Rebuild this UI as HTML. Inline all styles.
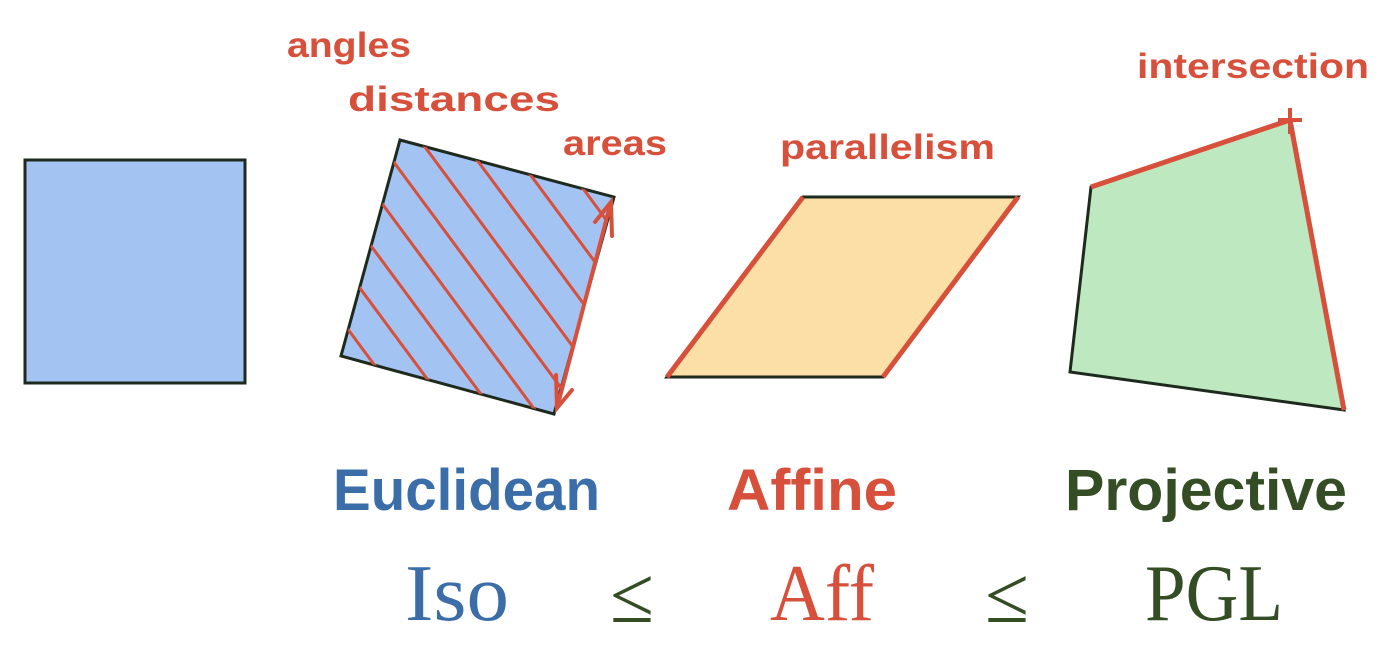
<!DOCTYPE html>
<html><head><meta charset="utf-8"><style>
html,body{margin:0;padding:0;background:#fff;}
svg{display:block;}
.lbl{font-family:"Liberation Sans",sans-serif;font-weight:bold;fill:#d6503b;font-size:35px;}
.big{font-family:"Liberation Sans",sans-serif;font-weight:bold;font-size:58px;}
.ser{font-family:"Liberation Serif",serif;font-size:80px;}
</style></head><body>
<svg width="1400" height="647" viewBox="0 0 1400 647">
<defs>
<clipPath id="rotclip"><polygon points="400,140 614,197 554,414 341,356"/></clipPath>
</defs>
<rect x="25" y="160" width="220" height="223" fill="#a3c4f3" stroke="#1e2a1e" stroke-width="3"/>

<g>
<polygon points="400,140 614,197 554,414 341,356" fill="#a3c4f3" stroke="#1e2a1e" stroke-width="3"/>
<g clip-path="url(#rotclip)" stroke="#d6503b" stroke-width="3" fill="none">
<line x1="230" y1="170" x2="430" y2="440"/>
<line x1="265" y1="160" x2="465" y2="430"/>
<line x1="300" y1="150" x2="500" y2="420"/>
<line x1="335" y1="140" x2="535" y2="410"/>
<line x1="370" y1="130" x2="570" y2="400"/>
<line x1="405" y1="120" x2="605" y2="390"/>
<line x1="440" y1="110" x2="640" y2="380"/>
<line x1="475" y1="100" x2="675" y2="370"/>
<line x1="510" y1="90" x2="710" y2="360"/>
<line x1="545" y1="80" x2="745" y2="350"/>
</g>
<g stroke="#d6503b" stroke-width="4" fill="none" stroke-linecap="round">
<line x1="611" y1="202" x2="557" y2="408"/>
<polyline points="595,222 611,202 612,236"/>
<polyline points="556,375 557,408 572,390"/>
</g>
</g>

<g>
<polygon points="803,197 1018,197 883,377 667,377" fill="#fbdfa6" stroke="#1e2a1e" stroke-width="3"/>
<line x1="803" y1="197" x2="667" y2="377" stroke="#d6503b" stroke-width="5"/>
<line x1="1018" y1="197" x2="883" y2="377" stroke="#d6503b" stroke-width="5"/>
</g>

<g>
<polygon points="1091,187 1290,120 1344,410 1070,372" fill="#bde8c0" stroke="#1e2a1e" stroke-width="3"/>
<line x1="1091" y1="187" x2="1290" y2="120" stroke="#d6503b" stroke-width="5"/>
<line x1="1290" y1="120" x2="1344" y2="410" stroke="#d6503b" stroke-width="5"/>
<path d="M1278,120 L1302,120 M1290,108 L1290,134" stroke="#d6503b" stroke-width="4"/>
</g>

<text class="lbl" x="287" y="57" textLength="124" lengthAdjust="spacingAndGlyphs">angles</text>
<text class="lbl" x="348" y="111" textLength="212" lengthAdjust="spacingAndGlyphs">distances</text>
<text class="lbl" x="563" y="155" textLength="104" lengthAdjust="spacingAndGlyphs">areas</text>
<text class="lbl" x="780" y="159" textLength="215" lengthAdjust="spacingAndGlyphs">parallelism</text>
<text class="lbl" x="1137" y="78" textLength="232" lengthAdjust="spacingAndGlyphs">intersection</text>

<text class="big" x="333" y="510" fill="#3b6ea8" textLength="267" lengthAdjust="spacingAndGlyphs">Euclidean</text>
<text class="big" x="727" y="510" fill="#d6503b" textLength="170" lengthAdjust="spacingAndGlyphs">Affine</text>
<text class="big" x="1065" y="510" fill="#344d25" textLength="282" lengthAdjust="spacingAndGlyphs">Projective</text>

<text class="ser" x="405" y="620" fill="#3b6ea8" textLength="104" lengthAdjust="spacingAndGlyphs">Iso</text>
<text class="ser" x="610" y="622" fill="#344d25" font-size="96">≤</text>
<text class="ser" x="770" y="620" fill="#d6503b" textLength="104" lengthAdjust="spacingAndGlyphs">Aff</text>
<text class="ser" x="985" y="622" fill="#344d25" font-size="96">≤</text>
<text class="ser" x="1145" y="620" fill="#344d25" textLength="138" lengthAdjust="spacingAndGlyphs">PGL</text>
</svg>
</body></html>
